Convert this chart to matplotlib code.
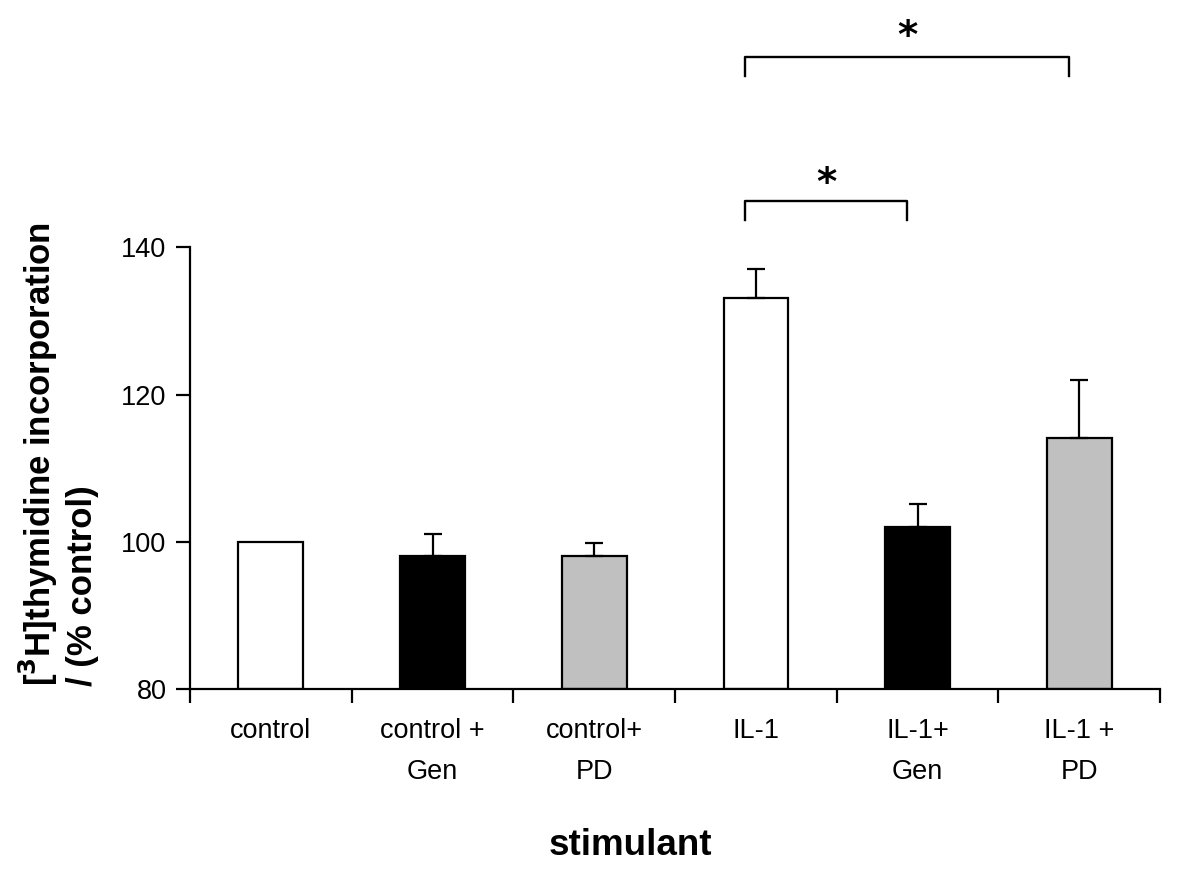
import matplotlib
matplotlib.use("Agg")
import matplotlib.pyplot as plt

# ---- data ----
categories = ["control", "control +\nGen", "control+\nPD", "IL-1", "IL-1+\nGen", "IL-1 +\nPD"]
values = [100.0, 98.1, 98.1, 133.1, 102.1, 114.1]
err_upper = [0.0, 3.0, 1.8, 3.9, 3.0, 7.9]
colors = ["white", "black", "#c0c0c0", "white", "black", "#c0c0c0"]
y_ticks = [80, 100, 120, 140]
# significance brackets: (from index, to index, bracket height, leg bottom, star height)
brackets = [(3, 4, 146.3, 143.7, 148.6), (3, 5, 165.9, 163.3, 168.6)]

plt.rcParams['font.family'] = ['Liberation Sans', 'DejaVu Sans']

fig = plt.figure(figsize=(11.99, 8.80), dpi=100)
ax = fig.add_axes([190/1199, 1 - 689.3/880, (1160-190)/1199, (689.3-11.6)/880])

x = list(range(len(categories)))
ax.bar(x, [v - 80 for v in values], bottom=80, width=0.4, color=colors,
       edgecolor="black", linewidth=1.6, zorder=2)
for xi, v, e in zip(x, values, err_upper):
    if e > 0:
        ax.errorbar(xi, v, yerr=[[0], [e]], fmt="none", ecolor="black",
                    elinewidth=1.6, capsize=6.5, capthick=1.6, zorder=3)

off = -0.065
for i, j, h, leg, star in brackets:
    ax.plot([i + off, i + off, j + off, j + off], [leg, h, h, leg],
            color="black", linewidth=1.7, clip_on=False)
    ax.text((i + j) / 2 + off, star, "*", ha="center", va="center",
            fontsize=28, fontweight="bold", family="DejaVu Sans")

ax.set_xlim(-0.5, len(categories) - 0.5)
ax.set_ylim(80, 172)
ax.set_yticks(y_ticks)
ax.set_yticklabels([str(t) for t in y_ticks], fontsize=19.5)
ax.set_xticks([i + 0.5 for i in range(-1, len(categories))])
ax.set_xticklabels([])
ax.set_xticks(x, minor=True)
ax.set_xticklabels(categories, minor=True, fontsize=19.5, linespacing=1.75)
ax.tick_params(axis="x", which="minor", length=0, pad=21)
ax.tick_params(axis="x", which="major", direction="out", length=10, width=1.6)
ax.tick_params(axis="y", direction="out", length=10, width=1.6, pad=7)

ax.spines["top"].set_visible(False)
ax.spines["right"].set_visible(False)
ax.spines["left"].set_bounds(80, 140)
ax.spines["left"].set_linewidth(1.6)
ax.spines["bottom"].set_linewidth(1.6)

fig.text(630/1199, 1 - 845/880, "stimulant", ha="center", va="center",
         fontsize=26.5, fontweight="bold")
fig.text(58/1199, 1 - 686/880, "[$\\mathbf{^3}$H]thymidine incorporation\n/ (% control)",
         rotation=90, ha="center", va="bottom", multialignment="left",
         fontsize=25, fontweight="bold", linespacing=1.25)

fig.savefig("out.png", dpi=100)
